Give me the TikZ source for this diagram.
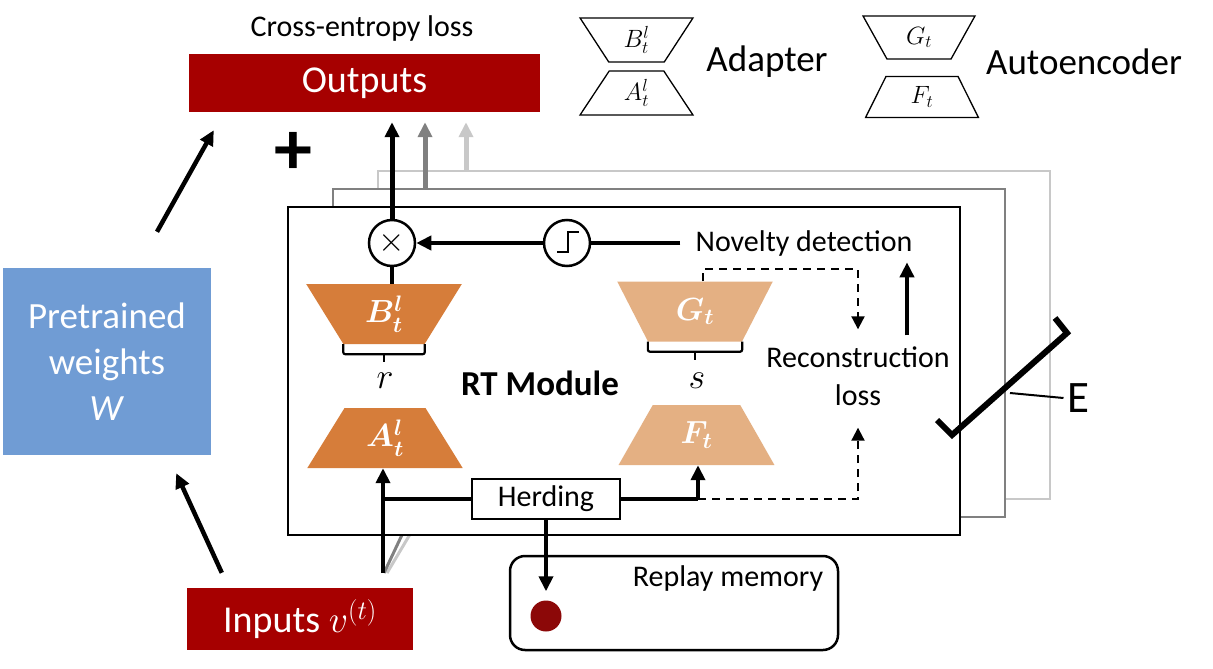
\RequirePackage{fix-cm}
\documentclass[tikz,border=0pt]{standalone}
\usepackage{fontspec}
\setmainfont{Carlito}
\usetikzlibrary{shapes.geometric,arrows.meta,calc}
\definecolor{darkred}{RGB}{166,0,0}
\definecolor{dotred}{RGB}{140,8,8}
\definecolor{wblue}{RGB}{112,156,212}
\definecolor{adorange}{RGB}{214,125,58}
\definecolor{aeorange}{RGB}{228,176,131}
\definecolor{midgray}{RGB}{128,128,128}
\definecolor{lightgray2}{RGB}{200,200,200}
\newcommand{\setfs}[2]{\fontsize{#1}{#2}\selectfont}

\begin{document}
\begin{tikzpicture}[x=1pt,y=-1pt,>={Triangle[length=15pt,width=14pt]},
    redbox/.style={fill=darkred,text=white,inner sep=0,font=\setfs{38}{38}},
    trap/.style={trapezium,trapezium stretches=true,inner sep=0,minimum width=156,minimum height=60,text=white,font=\setfs{32}{32}\boldmath},
    legtrap/.style={trapezium,trapezium stretches=true,draw,line width=1.3,fill=white,inner sep=0,font=\setfs{25}{25}},
    stackbox/.style={draw,line width=2,fill=white,inner sep=0,minimum width=672,minimum height=328},
    txt/.style={inner sep=0,font=\setfs{29}{29}},
    thickline/.style={line width=4},
    thickarrow/.style={line width=4,->},
    outarrow/.style={line width=5,->,shorten >=10pt},
    dasharrow/.style={line width=2,dash pattern=on 8pt off 6pt,->,>={Triangle[length=13pt,width=13pt]}},
    bracket/.style={line width=2.2,rounded corners=2}]
    \useasboundingbox (0,0) rectangle (1213,669);

    \node[txt,font=\setfs{30}{30}] (celoss) at (362,29) {Cross-entropy loss};
    \node[redbox,minimum width=351,minimum height=58] (outputs) at (364.5,83) {Outputs};
    \node[font=\bfseries\setfs{76}{76}] (plus) at (293,153) {+};

    \node[legtrap,minimum width=113,minimum height=44,trapezium left angle=116,trapezium right angle=116] (legB) at (636.5,40) {$B_t^l$};
    \node[legtrap,minimum width=113,minimum height=44,trapezium left angle=64,trapezium right angle=64] (legA) at (636.5,93) {$A_t^l$};
    \node[legtrap,minimum width=112,minimum height=43,trapezium left angle=115,trapezium right angle=115] (legG) at (919,37.5) {$G_t$};
    \node[legtrap,minimum width=113,minimum height=41,trapezium left angle=73,trapezium right angle=73] (legF) at (922,97) {$F_t$};
    \node[txt,font=\setfs{37}{37}] (adapter) at (767,62) {Adapter};
    \node[txt,font=\setfs{37}{37}] (autoenc) at (1084,62) {Autoencoder};

    \node[fill=wblue,text=white,minimum width=208,minimum height=187,align=center,inner sep=0,font=\setfs{37}{46}] (pre) at (107,361.5) {Pretrained\\weights\\\textit{W}};
    \node[redbox,minimum width=226,minimum height=62] (inputs) at (300,619) {Inputs $v^{(t)}$};
    \draw[thickarrow,line width=4.5] ($(pre.north)+(50,-36)$) -- ($(outputs.south west)+(25,18)$);
    \draw[thickarrow,line width=4.5] ($(inputs.north west)+(35,-15)$) -- ($(pre.south east)+(-35,18)$);

    \foreach \k/\c in {3/lightgray2,2/midgray}
        \node[stackbox,draw=\c] (rt\k) at ({624+45*(\k-1)},{371-18*(\k-1)}) {};
    \coordinate (o2) at ([xshift=93pt]rt2.north west);
    \coordinate (o3) at ([xshift=89pt]rt3.north west);
    \draw[outarrow,midgray] (o2) -- (o2 |- outputs.south);
    \draw[outarrow,lightgray2] (o3) -- (o3 |- outputs.south);
    \coordinate (inbase) at (383,573);
    \draw[lightgray2,line width=3] ([xshift=4pt]inbase) -- ++(44,-74);
    \draw[midgray,line width=3] ([xshift=1pt]inbase) -- ++(25,-53);

    \node[stackbox] (rt1) at (624,371) {};
    \node[font=\bfseries\setfs{35}{35}] (rtlabel) at (540,383) {RT Module};

    \node[circle,draw,line width=2.5,fill=white,minimum size=46,inner sep=0,font=\setfs{34}{34}] (mult) at (392,243) {$\times$};
    \node[circle,draw,line width=2.5,fill=white,minimum size=46,inner sep=0] (step) at (567,243) {};
    \draw[line width=2] ($(step)+(-10,9)$) -- ++(11,0) -- ++(0,-20) -- ++(11,0);
    \node[txt,inner xsep=15pt,font=\setfs{30}{30}] (nov) at (804,243) {Novelty detection};
    \draw[thickline] (nov) -- (step);
    \draw[thickarrow] (step) -- (mult);
    \draw[outarrow] (mult) -- (mult |- outputs.south);

    \node[trap,fill=adorange,trapezium left angle=115,trapezium right angle=115] (Bt) at (384,314) {$B_t^l$};
    \node[trap,fill=adorange,trapezium left angle=65,trapezium right angle=65] (At) at (385,438) {$A_t^l$};
    \node[trap,fill=aeorange,trapezium left angle=115,trapezium right angle=115] (Gt) at (695,311.5) {$G_t$};
    \node[trap,fill=aeorange,trapezium left angle=65,trapezium right angle=65] (Ft) at (696.5,435) {$F_t$};
    \draw[thickline] (mult) -- (mult |- Bt.north);

    \draw[bracket] (Bt.bottom left corner) -- ++(0,10) -| (Bt.bottom right corner);
    \draw[line width=2.2] ($(Bt.bottom left corner)!.5!(Bt.bottom right corner)+(0,10)$) -- ++(0,8);
    \draw[bracket] (Gt.bottom left corner) -- ++(0,10) -| (Gt.bottom right corner);
    \draw[line width=2.2] ($(Gt.bottom left corner)!.5!(Gt.bottom right corner)+(0,10)$) -- ++(0,8);
    \node[font=\setfs{36}{36}] (rlab) at (385,381) {$r$};
    \node[font=\setfs{36}{36}] (slab) at (697,381) {$s$};

    \node[txt,align=center,font=\setfs{30}{38}] (rec) at (858,376) {Reconstruction\\loss};
    \draw[dasharrow] ([xshift=8pt]Gt.north) -- ++(0,-12) -| ([yshift=17pt]rec.north);
    \draw[thickarrow] ([xshift=49pt,yshift=11pt]rec.north) -- ++(0,-73);

    \draw[thickarrow] (inbase) -- (inbase |- At.south);
    \node[draw,line width=2,fill=white,minimum width=148,minimum height=40,inner sep=0,font=\setfs{30}{30}] (herd) at (546,499) {Herding};
    \coordinate (fjoin) at (698,499);
    \draw[thickline] (herd.west) -- (herd.west -| inbase);
    \draw[thickline] (herd.east) -- (fjoin);
    \draw[thickarrow] (fjoin) -- (fjoin |- Ft.south);
    \draw[dasharrow] (fjoin) -| ([yshift=-22pt]rec.south);

    \node[draw,rounded corners=15,line width=2.5,minimum width=328,minimum height=94,inner sep=0] (replay) at (674,603) {};
    \node[txt,font=\setfs{30}{30}] (replaytxt) at (728,578) {Replay memory};
    \node[circle,fill=dotred,minimum size=31,inner sep=0] (dot) at (546,616) {};
    \draw[thickarrow] (herd.south) -- ([yshift=9pt]dot.north);

    \node[font=\setfs{45}{45}] (elab) at (1078,398) {E};
    \draw[line width=6] (937,420) -- (952,435) -- (1067,333) -- (1055,318);
    \draw[line width=2] (1010,393) -- (elab.west);
\end{tikzpicture}
\end{document}
